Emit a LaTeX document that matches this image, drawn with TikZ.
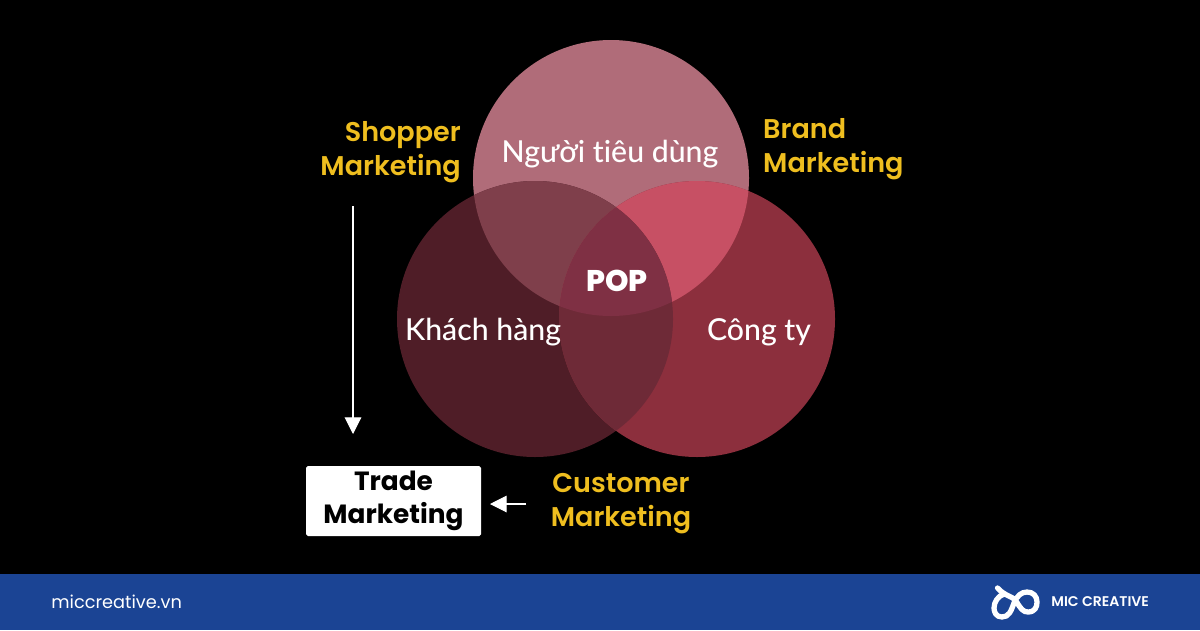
\documentclass[tikz,border=0pt]{standalone}
\usepackage{fontspec}
\setmainfont[Ligatures=NoCommon]{Lato Medium}
\newfontfamily\popfont{Poppins}
\newfontfamily\popsemi{Poppins SemiBold}
\newfontfamily\popbold{Poppins Bold}
\newfontfamily\popheavy{Poppins ExtraBold}
\usetikzlibrary{arrows.meta}
\definecolor{bgblack}{HTML}{000000}
\definecolor{footblue}{HTML}{1B4494}
\definecolor{gold}{HTML}{EFBE1F}
\definecolor{topc}{HTML}{B06C79}
\definecolor{leftc}{HTML}{4F1D27}
\definecolor{rightc}{HTML}{8C2F3D}
\definecolor{topright}{HTML}{C75064}
\definecolor{topleft}{HTML}{7F3F4B}
\definecolor{leftright}{HTML}{6E2A37}
\definecolor{midc}{HTML}{7F3044}
\tikzset{
  vtext/.style={text=white, font=\fontsize{17.2}{19}\selectfont},
  gtext/.style={text=gold, font=\popsemi\fontsize{15.4}{19.4}\selectfont},
  warrow/.style={draw=white, line width=0.6pt, -{Triangle[length=9.5pt,width=9.5pt]}}
}
\def\ctop{(12.22,9.04) circle (2.76)}
\def\cleft{(10.70,6.22) circle (2.76)}
\def\cright{(13.94,6.22) circle (2.76)}
\begin{document}
\begin{tikzpicture}
  \useasboundingbox (0,0) rectangle (24,12.6);
  \fill[bgblack] (0,0) rectangle (24,12.6);
  \fill[footblue] (0,0) rectangle (24,1.12);

  % circles
  \fill[topc] \ctop;
  \fill[leftc] \cleft;
  \fill[rightc] \cright;
  \begin{scope}
    \clip \ctop;
    \fill[topleft] \cleft;
    \fill[topright] \cright;
  \end{scope}
  \begin{scope}
    \clip \cleft;
    \fill[leftright] \cright;
    \clip \cright;
    \fill[midc] \ctop;
  \end{scope}

  \node[vtext] (consumer) at (12.20,9.51) {Người tiêu dùng};
  \node[vtext] (client) at (9.66,5.95) {Khách hàng};
  \node[vtext] (company) at (15.18,5.96) {Công ty};
  \node[text=white, font=\popheavy\fontsize{17}{19}\selectfont] (pop) at (12.34,6.98) {POP};

  \node[gtext, align=right, anchor=east] (shopper) at (9.34,9.56) {Shopper\\Marketing};
  \node[gtext, align=left, anchor=west] (brand) at (15.14,9.62) {Brand\\Marketing};
  \node[gtext, align=center] (customer) at (12.42,2.52) {Customer\\Marketing};
  \node[fill=white, rounded corners=1pt, minimum width=3.5cm, minimum height=1.4cm, inner sep=0pt,
    text=black, font=\popbold\fontsize{15}{19}\selectfont, align=center] (trade) at (7.87,2.58) {Trade\\Marketing};

  \coordinate (shopperend) at (7.06,8.48);
  \coordinate (tradetop) at (7.06,3.92);
  \coordinate (customerend) at (10.52,2.52);
  \coordinate (tradeside) at (9.80,2.52);
  \draw[warrow] (shopperend) -- (tradetop);
  \draw[warrow] (customerend) -- (tradeside);

  \node[text=white, anchor=west, inner sep=0pt, font=\popfont\fontsize{10.1}{12}\selectfont] (site) at (1.02,0.57) {miccreative.vn};
  \node[text=white, anchor=west, inner sep=0pt, font=\popsemi\fontsize{8}{10}\selectfont] (mic) at (21.02,0.56) {MIC CREATIVE};

  % logo
  \draw[white, line width=3pt, line cap=round, line join=round]
    (19.95,0.84) .. controls (20.12,0.66) and (20.22,0.70) .. (20.32,0.58)
    .. controls (20.42,0.42) and (20.46,0.36) .. (20.56,0.36)
    .. controls (20.70,0.36) and (20.74,0.46) .. (20.74,0.56)
    .. controls (20.74,0.68) and (20.66,0.76) .. (20.54,0.76)
    .. controls (20.42,0.76) and (20.34,0.68) .. (20.28,0.54)
    .. controls (20.22,0.38) and (20.18,0.26) .. (20.04,0.26)
    .. controls (19.92,0.26) and (19.88,0.36) .. (19.88,0.44)
    .. controls (19.88,0.56) and (19.96,0.68) .. (20.08,0.72);
\end{tikzpicture}
\end{document}
